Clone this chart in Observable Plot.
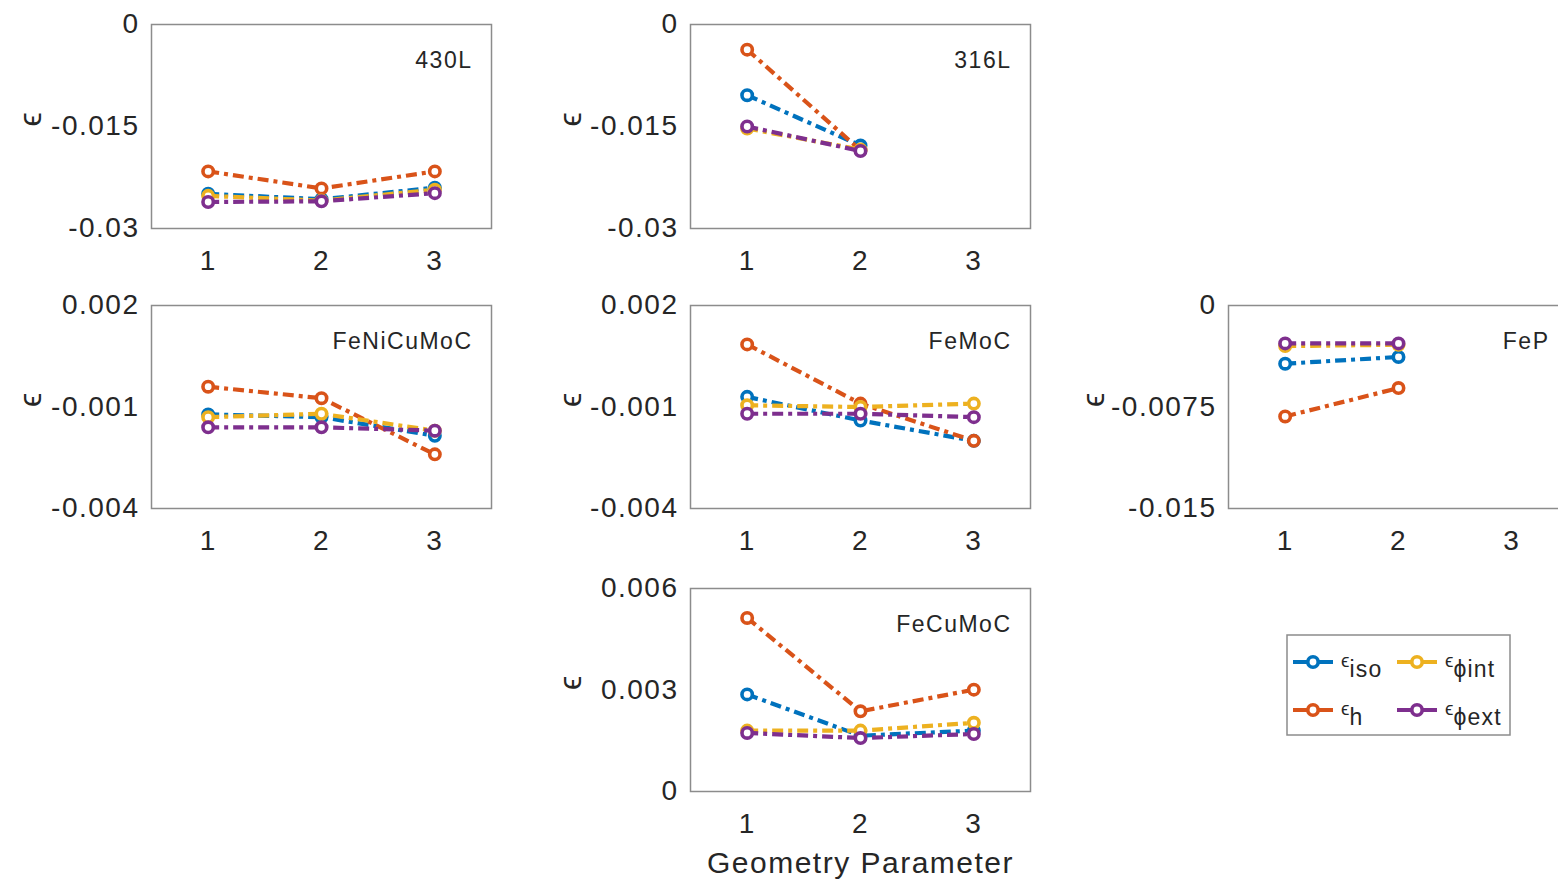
<!DOCTYPE html>
<html>
<head>
<meta charset="utf-8">
<script src="https://cdn.jsdelivr.net/npm/d3@7"></script>
<script src="https://cdn.jsdelivr.net/npm/@observablehq/plot@0.6"></script>
<style>
  html, body { margin: 0; padding: 0; background: #fff; overflow: hidden; }
  #root { position: relative; width: 1558px; height: 886px; overflow: hidden; font-family: "Liberation Sans", Arial, sans-serif; }
  #root > svg { position: absolute; }
</style>
</head>
<body>
<div id="root"></div>
<script>
// ---------- data ----------
const geometry = [1, 2, 3];
const seriesKeys = ["iso", "h", "phiint", "phiext"];
const seriesColors = ["#0072BD", "#D95319", "#EDB120", "#7E2F8E"];
const panelNames = ["430L", "316L", "FeNiCuMoC", "FeMoC", "FeP", "FeCuMoC"];

// rows: iso, h, phi_int, phi_ext  (values at geometry parameter 1, 2, 3)
const eps430L = [
  [-0.0249, -0.0257, -0.0240],
  [-0.0216, -0.0241, -0.0216],
  [-0.0252, -0.0259, -0.0243],
  [-0.0261, -0.0260, -0.0248]
];
const eps316L = [
  [-0.0104, -0.0178],
  [-0.0037, -0.0185],
  [-0.0153, -0.0184],
  [-0.0150, -0.0186]
];
const epsFeNiCuMoC = [
  [-0.00122, -0.00130, -0.00185],
  [-0.00040, -0.00074, -0.00240],
  [-0.00130, -0.00120, -0.00170],
  [-0.00160, -0.00160, -0.00170]
];
const epsFeMoC = [
  [-0.00070, -0.00140, -0.00200],
  [0.00085, -0.00090, -0.00200],
  [-0.00095, -0.00100, -0.00090],
  [-0.00120, -0.00120, -0.00130]
];
const epsFeP = [
  [-0.0043, -0.0038],
  [-0.0082, -0.0061],
  [-0.0030, -0.0029],
  [-0.0028, -0.0028]
];
const epsFeCuMoC = [
  [0.00287, 0.00165, 0.00180],
  [0.00513, 0.00237, 0.00301],
  [0.00180, 0.00180, 0.00203],
  [0.00173, 0.00158, 0.00170]
];
const panelValues = [eps430L, eps316L, epsFeNiCuMoC, epsFeMoC, epsFeP, epsFeCuMoC];

const yTicks430L = [-0.03, -0.015, 0];
const yTicks316L = [-0.03, -0.015, 0];
const yTicksFeNiCuMoC = [-0.004, -0.001, 0.002];
const yTicksFeMoC = [-0.004, -0.001, 0.002];
const yTicksFeP = [-0.015, -0.0075, 0];
const yTicksFeCuMoC = [0, 0.003, 0.006];
const panelYTicks = [yTicks430L, yTicks316L, yTicksFeNiCuMoC, yTicksFeMoC, yTicksFeP, yTicksFeCuMoC];

const xLabel = "Geometry Parameter";
const yLabel = "\u03F5";
const legendSubs = ["iso", "h", "\u03D5int", "\u03D5ext"];

// ---------- layout ----------
const frameLeft = [151, 690, 151, 690, 1228, 690];
const frameTop = [24, 24, 305, 305, 305, 588];
const frameH = [204, 204, 203, 203, 203, 203];
const yLabelOffset = [121, 120, 121, 120, 135, 120];
const frameW = 340;
const mL = 150, mR = 10, mT = 10;
const dash = "11,5,4,5";

const root = document.getElementById("root");

panelNames.forEach((name, p) => {
  const vals = panelValues[p];
  const ticks = panelYTicks[p];
  const isBottom = name === "FeCuMoC";
  const mB = isBottom ? 95 : 60;
  const marks = [];
  seriesKeys.forEach((key, s) => {
    const rows = vals[s].map((v, i) => ({x: geometry[i], y: v, s: key}));
    marks.push(Plot.line(rows, {
      x: "x", y: "y", stroke: seriesColors[s], strokeWidth: 4.2,
      strokeDasharray: dash, strokeLinecap: "butt"
    }));
    marks.push(Plot.dot(rows, {
      x: "x", y: "y", r: 5.2, stroke: seriesColors[s], strokeWidth: 3.6, fill: "white"
    }));
  });
  marks.push(Plot.frame({stroke: "#8c8c8c", strokeWidth: 1.5}));
  marks.push(Plot.axisY({ticks, tickFormat: d => String(d), tickSize: 0, tickPadding: 12,
    label: null, fill: "#262626", fontSize: 28}));
  marks.push(Plot.axisX({ticks: geometry, tickFormat: d => String(d), tickSize: 0, tickPadding: 22,
    label: null, fill: "#262626", fontSize: 28}));
  marks.push(Plot.text([yLabel], {text: d => d, frameAnchor: "left", dx: -yLabelOffset[p], rotate: -90,
    fontSize: 32, fill: "#262626"}));
  marks.push(Plot.text([name], {text: d => d, frameAnchor: "top-right", dx: -19, dy: 36,
    lineAnchor: "middle", textAnchor: "end", fontSize: 23, fill: "#262626", letterSpacing: 2}));
  if (isBottom) {
    marks.push(Plot.text([xLabel], {text: d => d, frameAnchor: "bottom", dy: 72,
      lineAnchor: "middle", fontSize: 30, fill: "#262626"}));
  }
  const svg = Plot.plot({
    width: mL + frameW + mR,
    height: mT + frameH[p] + mB,
    marginLeft: mL, marginRight: mR, marginTop: mT, marginBottom: mB,
    x: {domain: [0.5, 3.5]},
    y: {domain: [ticks[0], ticks[2]]},
    style: {fontFamily: "'Liberation Sans', Arial, sans-serif", letterSpacing: "1.5px", background: "transparent", overflow: "visible"},
    marks
  });
  svg.style.left = (frameLeft[p] - mL) + "px";
  svg.style.top = (frameTop[p] - mT) + "px";
  root.appendChild(svg);
});

// ---------- legend ----------
const lg = d3.select(root).append("svg")
  .attr("width", 226).attr("height", 103)
  .style("left", "1286px").style("top", "634px")
  .style("font-family", "'Liberation Sans', Arial, sans-serif");
lg.append("rect").attr("x", 1).attr("y", 1).attr("width", 223).attr("height", 100)
  .attr("fill", "white").attr("stroke", "#8c8c8c").attr("stroke-width", 1.5);
const legendPos = [[7, 28], [7, 76], [111, 28], [111, 76]]; // iso, h, phiint, phiext
seriesKeys.forEach((key, s) => {
  const [lx, ly] = legendPos[s];
  const g = lg.append("g").attr("transform", `translate(${lx},${ly})`);
  g.append("line").attr("x1", 0).attr("x2", 40).attr("y1", 0).attr("y2", 0)
    .attr("stroke", seriesColors[s]).attr("stroke-width", 4.2).attr("stroke-dasharray", "40");
  g.append("circle").attr("cx", 20).attr("cy", 0).attr("r", 5.2)
    .attr("fill", "white").attr("stroke", seriesColors[s]).attr("stroke-width", 3.6);
  const t = g.append("text").attr("x", 48).attr("y", 5).attr("fill", "#262626");
  t.append("tspan").attr("font-size", 19).text(yLabel);
  t.append("tspan").attr("font-size", 23).attr("dy", 10).attr("letter-spacing", 1.2).text(legendSubs[s]);
});
</script>
</body>
</html>
